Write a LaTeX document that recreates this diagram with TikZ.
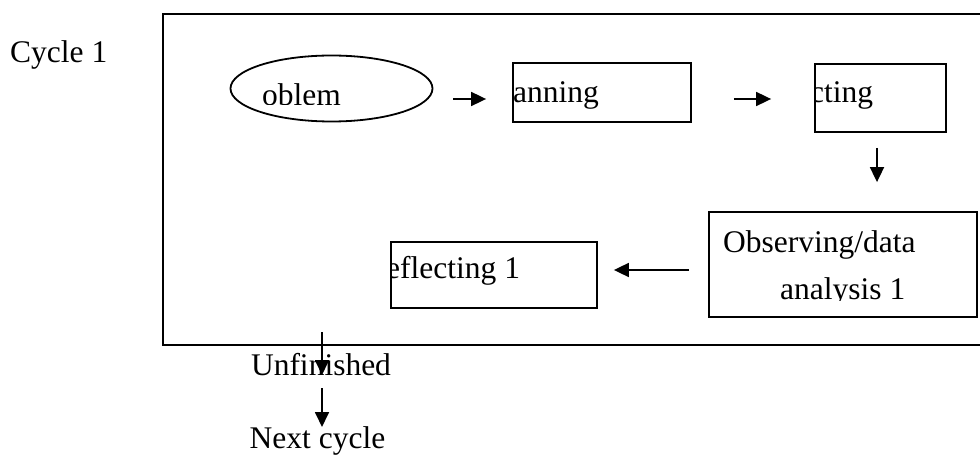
\documentclass[tikz,border=0pt]{standalone}
\usepackage{fontspec}
\setmainfont{Liberation Serif}
\usetikzlibrary{arrows.meta,calc,shapes.geometric}

\tikzset{
  lbl/.style={font=\fontsize{31.5}{36}\selectfont, inner sep=0pt, anchor=base west},
  frame/.style={draw, line width=1.8pt, inner sep=0pt},
  stagebox/.style={frame, rectangle},
  stageoval/.style={frame, ellipse},
  arr/.style={line width=1.8pt, -{Triangle[length=15pt,width=14pt]}},
}

\begin{document}
\begin{tikzpicture}[x=1pt, y=-1pt]
  \useasboundingbox[fill=white] (0,0) rectangle (980,457);

  % outer frame of the cycle (runs off the right edge)
  \node[stagebox, minimum width=827pt, minimum height=331pt] (outer) at (576.5,179.5) {};
  \node[lbl] (cyc) at (10,63) {Cycle 1};

  % stages
  \node[stageoval, minimum width=202pt, minimum height=66pt] (prob) at (331.5,88.5) {};
  \node[stagebox, minimum width=178pt, minimum height=59pt] (plan) at (602,92.5) {};
  \node[stagebox, minimum width=131pt, minimum height=68pt] (act) at (880.5,98) {};
  \node[stagebox, minimum width=268pt, minimum height=105pt] (obs) at (843,264.5) {};
  \node[stagebox, minimum width=206pt, minimum height=66pt] (refl) at (494,275) {};

  % stage labels, cut off by their frames
  \begin{scope}
    \clip (262,50) rectangle (432,104.5);
    \node[lbl] (probtxt) at (262,106) {oblem};
  \end{scope}
  \begin{scope}
    \clip (plan.north west) rectangle (plan.south east);
    \node[lbl] (plantxt) at (513,103) {anning};
  \end{scope}
  \begin{scope}
    \clip (act.north west) rectangle (act.south east);
    \node[lbl] (acttxt) at (810,103) {cting};
  \end{scope}
  \begin{scope}
    \clip (refl.north west) rectangle (refl.south east);
    \node[lbl] (refltxt) at (386,279) {eflecting 1};
  \end{scope}
  \node[lbl] (obstxt) at (723,253) {Observing/data};
  \begin{scope}
    \clip (obs.north west) rectangle (977,300);
    \node[lbl] (obstxtb) at (780,299) {analysis 1};
  \end{scope}

  % below the frame
  \node[lbl, anchor=base] (unf) at (321,375) {Unfinished};
  \node[lbl, anchor=base] (next) at (317.5,448) {Next cycle};

  % connectors
  \draw[arr] ($(prob.east)+(20,10.5)$) -- ($(plan.west)+(-26,6.5)$);
  \draw[arr] ($(plan.east)+(42,6.5)$) -- ($(act.west)+(-43,1)$);
  \draw[arr] ($(act.south)+(-3.5,15)$) -- ($(obs.north)+(34,-29)$);
  \draw[arr] ($(obs.west)+(-19,5.5)$) -- ($(refl.east)+(16,-5)$);
  \draw[arr] ($(unf.base)+(1,-43)$) -- ($(unf.base)+(1,0)$);
  \draw[arr] ($(unf.base)+(1,13)$) -- ($(next.base)+(4.5,-21)$);
\end{tikzpicture}
\end{document}
